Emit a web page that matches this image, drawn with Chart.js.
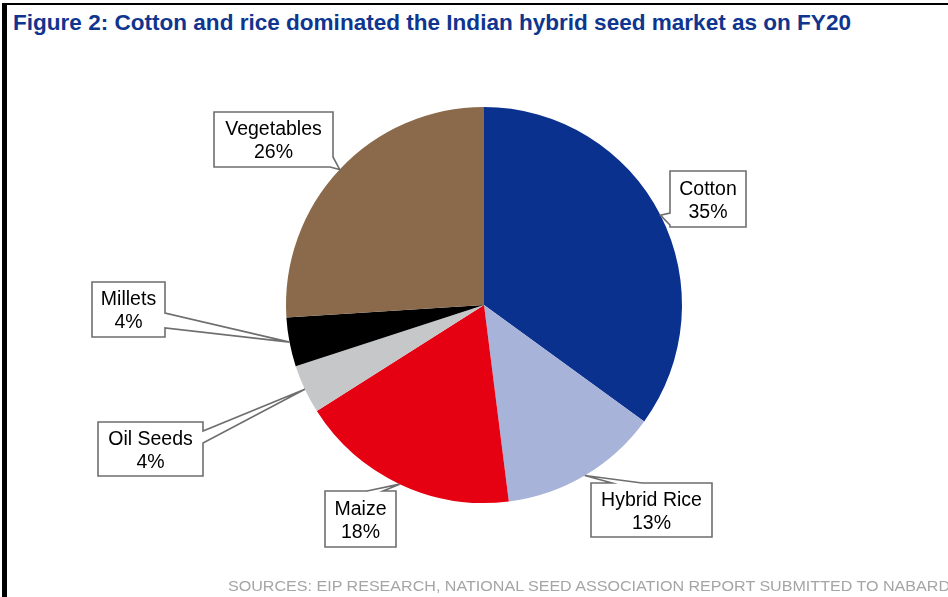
<!DOCTYPE html>
<html>
<head>
<meta charset="utf-8">
<script src="https://cdn.jsdelivr.net/npm/chart.js@4.4.1/dist/chart.umd.min.js"></script>
<style>
  html, body { margin: 0; padding: 0; background: #fff; }
  #wrap { position: relative; width: 948px; height: 597px; overflow: hidden; background: #fff; }
  #frame { position: absolute; left: 2px; top: 3px; right: -10px; bottom: -10px;
           border-top: 2px solid #000; border-left: 5px solid #000; }
  #title { position: absolute; left: 13px; top: 12px; white-space: nowrap;
           font: bold 22px/22px "Liberation Sans", Arial, sans-serif; color: #0F358F;
           transform-origin: 0 0; }
  #source { position: absolute; left: 228px; top: 579px; white-space: nowrap;
            font: 14px/14px "Liberation Sans", Arial, sans-serif; color: #A5A5A5;
            transform-origin: 0 0; }
  #chart { position: absolute; left: 0; top: 0; }
</style>
</head>
<body>
<div id="wrap">
  <div id="frame"></div>
  <div id="title">Figure 2: Cotton and rice dominated the Indian hybrid seed market as on FY20</div>
  <canvas id="chart" width="948" height="597"></canvas>
  <div id="source">SOURCES: EIP RESEARCH, NATIONAL SEED ASSOCIATION REPORT SUBMITTED TO NABARD</div>
</div>
<script>
// Share of the Indian hybrid seed market, FY20 (%)
const categories = ['Cotton', 'Hybrid Rice', 'Maize', 'Oil Seeds', 'Millets', 'Vegetables'];
const shares = [35, 13, 18, 4, 4, 26];
const sliceColors = ['#0B318F', '#A7B3D9', '#E50012', '#C6C7C9', '#000000', '#8A6A4B'];

// Callout boxes: position/size of each box and where its pointer leaves the box edge
const calloutBoxes = [
  { x: 670, y: 171, w: 76,  h: 56, a: ['left', 42],  b: ['left', 54] },
  { x: 591, y: 483, w: 121, h: 54, a: ['top', 21],   b: ['top', 51] },
  { x: 325, y: 491, w: 71,  h: 56, a: ['top', 42],   b: ['top', 58] },
  { x: 98,  y: 422, w: 105, h: 54, a: ['right', 9],  b: ['right', 21] },
  { x: 92,  y: 282, w: 73,  h: 55, a: ['right', 31], b: ['right', 46] },
  { x: 214, y: 112, w: 119, h: 55, a: ['right', 45], b: ['bottom', 116] }
];

// fit a line of HTML text to a given pixel width
function fitWidth(id, target) {
  const el = document.getElementById(id);
  const w = el.getBoundingClientRect().width;
  el.style.transform = 'scaleX(' + (target / w) + ')';
}
fitWidth('title', 838);
fitWidth('source', 722);

// position along the box perimeter, measured clockwise from the top-left corner
function perim(box, edge, off) {
  const { w, h } = box;
  if (edge === 'top') return off;
  if (edge === 'right') return w + off;
  if (edge === 'bottom') return w + h + (w - off);
  return 2 * w + h + (h - off);
}
function perimPoint(box, s) {
  const { x, y, w, h } = box;
  if (s <= w) return [x + s, y];
  if (s <= w + h) return [x + w, y + s - w];
  if (s <= 2 * w + h) return [x + w - (s - w - h), y + h];
  return [x, y + h - (s - 2 * w - h)];
}

const calloutPlugin = {
  id: 'callouts',
  afterDatasetsDraw(chart, args, opts) {
    const ctx = chart.ctx;
    const meta = chart.getDatasetMeta(0);
    const values = chart.data.datasets[0].data;
    meta.data.forEach((arc, i) => {
      const box = opts.boxes[i];
      if (!box) return;
      const p = arc.getProps(['x', 'y', 'startAngle', 'endAngle', 'outerRadius'], true);
      const mid = (p.startAngle + p.endAngle) / 2;
      const tip = [p.x + Math.cos(mid) * p.outerRadius, p.y + Math.sin(mid) * p.outerRadius];

      let s1 = perim(box, box.a[0], box.a[1]);
      let s2 = perim(box, box.b[0], box.b[1]);
      if (s1 > s2) { const t = s1; s1 = s2; s2 = t; }
      const corners = [0, box.w, box.w + box.h, 2 * box.w + box.h];
      const pts = [];
      corners.filter(c => c < s1).forEach(c => pts.push(perimPoint(box, c)));
      pts.push(perimPoint(box, s1), tip, perimPoint(box, s2));
      corners.filter(c => c > s2).forEach(c => pts.push(perimPoint(box, c)));

      ctx.save();
      ctx.beginPath();
      pts.forEach((pt, k) => k ? ctx.lineTo(pt[0], pt[1]) : ctx.moveTo(pt[0], pt[1]));
      ctx.closePath();
      ctx.fillStyle = '#FFFFFF';
      ctx.fill();
      ctx.lineWidth = 1.6;
      ctx.strokeStyle = '#6E6E6E';
      ctx.lineJoin = 'miter';
      ctx.stroke();

      const cx = box.x + box.w / 2;
      const cy = box.y + box.h / 2;
      ctx.fillStyle = '#000000';
      ctx.font = '19.5px "Liberation Sans", Arial, sans-serif';
      ctx.textAlign = 'center';
      ctx.textBaseline = 'alphabetic';
      ctx.fillText(chart.data.labels[i], cx, cy - 4.5);
      ctx.fillText(values[i] + '%', cx, cy + 18.5);
      ctx.restore();
    });
  }
};

new Chart(document.getElementById('chart'), {
  type: 'pie',
  data: {
    labels: categories,
    datasets: [{
      data: shares,
      backgroundColor: sliceColors,
      borderWidth: 0,
      hoverOffset: 0
    }]
  },
  options: {
    responsive: false,
    animation: false,
    events: [],
    layout: { padding: { left: 286, right: 266, top: 107, bottom: 94 } },
    plugins: {
      legend: { display: false },
      tooltip: { enabled: false },
      title: { display: false },
      callouts: { boxes: calloutBoxes }
    }
  },
  plugins: [calloutPlugin]
});
</script>
</body>
</html>
